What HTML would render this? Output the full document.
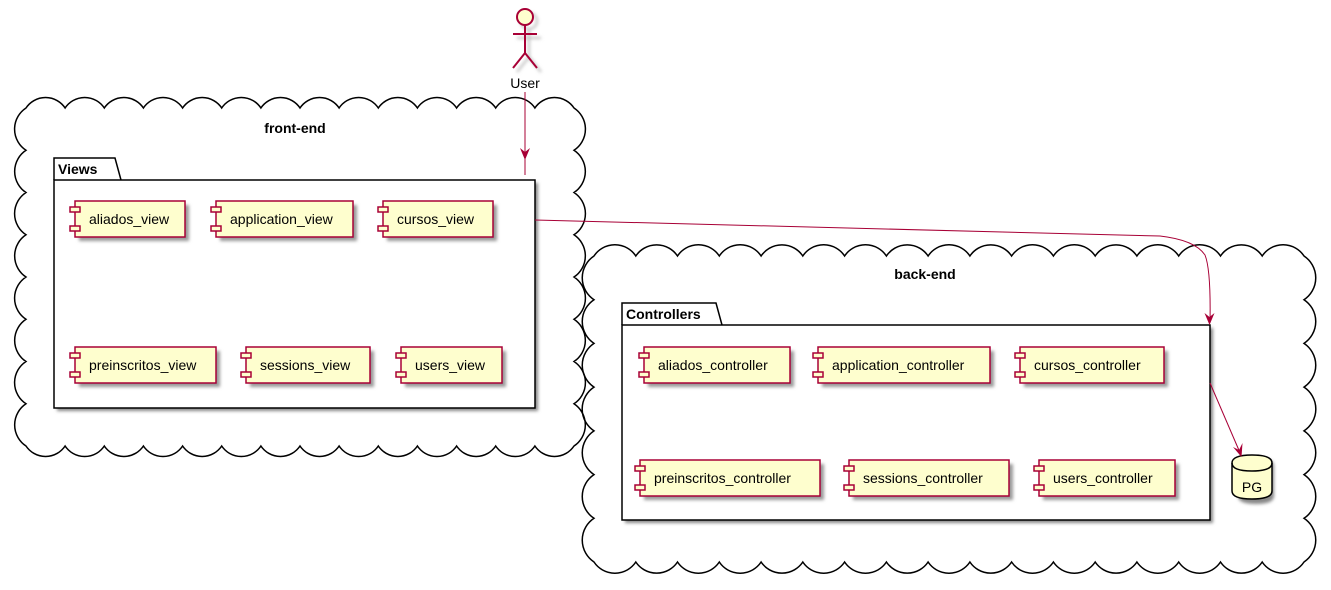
<!DOCTYPE html>
<html><head><meta charset="utf-8"><style>
html,body{margin:0;padding:0;background:#fff;}
svg{display:block;font-family:"Liberation Sans","DejaVu Sans",sans-serif;}
</style></head><body>
<svg id="s" width="1331" height="590" viewBox="0 0 1331 590" xmlns="http://www.w3.org/2000/svg">
<defs>
<filter id="sh" x="-10%" y="-10%" width="130%" height="140%"><feGaussianBlur stdDeviation="1.5"/></filter>
</defs>
<g id="clouds" fill="none" stroke="#000" stroke-width="1.5"></g>

<!-- actor -->
<g stroke="#bbb" stroke-width="2" fill="none" transform="translate(4,4)" filter="url(#sh)">
<circle cx="525" cy="17" r="8"/>
<line x1="525" y1="25" x2="525" y2="53"/>
<line x1="513" y1="34" x2="537" y2="34"/>
<line x1="525" y1="53" x2="513" y2="68"/>
<line x1="525" y1="53" x2="537" y2="68"/>
</g>
<g stroke="#A80036" stroke-width="2" fill="none">
<circle cx="525" cy="17" r="8" fill="#FEFECE"/>
<line x1="525" y1="25" x2="525" y2="53"/>
<line x1="513" y1="34" x2="537" y2="34"/>
<line x1="525" y1="53" x2="513" y2="68"/>
<line x1="525" y1="53" x2="537" y2="68"/>
</g>
<text x="525" y="88" font-size="14" text-anchor="middle">User</text>

<text x="295" y="133" font-size="14" font-weight="bold" text-anchor="middle">front-end</text>
<text x="925" y="279" font-size="14" font-weight="bold" text-anchor="middle">back-end</text>

<!-- Views package -->
<rect x="57" y="183" width="481" height="228" fill="#888" filter="url(#sh)"/>
<path d="M54 180 L54 158 L115 158 L121 180" fill="#fff" stroke="#000" stroke-width="1.5"/>
<rect x="54" y="180" width="481" height="228" fill="#fff" stroke="#000" stroke-width="1.5"/>
<text x="58" y="174" font-size="14" font-weight="bold">Views</text>

<!-- Controllers package -->
<rect x="625" y="328" width="588" height="195" fill="#888" filter="url(#sh)"/>
<path d="M622 325 L622 303 L716 303 L722 325" fill="#fff" stroke="#000" stroke-width="1.5"/>
<rect x="622" y="325" width="588" height="195" fill="#fff" stroke="#000" stroke-width="1.5"/>
<text x="626" y="319" font-size="14" font-weight="bold">Controllers</text>

<g id="comps"></g>

<!-- PG -->
<g>
<path d="M1235 463 Q1235 455 1253 455 Q1271 455 1271 463 L1271 493 Q1271 501 1253 501 Q1235 501 1235 493 Z" fill="#888" filter="url(#sh)" transform="translate(3,3)"/>
<path d="M1232 463 Q1232 455 1252 455 Q1272 455 1272 463 L1272 491 Q1272 499 1252 499 Q1232 499 1232 491 Z" fill="#FEFECE" stroke="#000" stroke-width="1.5"/>
<path d="M1232 463 Q1232 471 1252 471 Q1272 471 1272 463" fill="none" stroke="#000" stroke-width="1.5"/>
<text x="1252" y="492" font-size="14" text-anchor="middle">PG</text>
</g>

<!-- arrows -->
<g stroke="#A80036" stroke-width="1" fill="none">
<line x1="525" y1="92" x2="525" y2="175"/>
<path d="M535 220 L1160 236 Q1195 240 1205 255 Q1211 270 1210 323"/>
<path d="M1210 383 L1241 455"/>
</g>
<g fill="#A80036">
<path d="M525 160 L520 148 L525 152 L530 148 Z"/>
<path d="M1209.5 325 L1204.5 313 L1209.5 317 L1214.5 313 Z"/>
<path d="M1241.5 457 L1233 447 L1239 450 L1242.5 443 Z"/>
</g>
</svg>
<script>
(function(){
var NS="http://www.w3.org/2000/svg";
function cloud(x1,y1,x2,y2,b){
  var d="M"+x1+" "+y1;
  function edge(ax,ay,bx,by){
    var L=Math.hypot(bx-ax,by-ay),n=Math.max(1,Math.round(L/b));
    for(var i=1;i<=n;i++){
      var px=ax+(bx-ax)*i/n, py=ay+(by-ay)*i/n;
      var rr=(L/n)*0.6;
      d+=" A"+rr.toFixed(1)+" "+rr.toFixed(1)+" 0 0 1 "+px.toFixed(1)+" "+py.toFixed(1);
    }
  }
  edge(x1,y1,x2,y1);edge(x2,y1,x2,y2);edge(x2,y2,x1,y2);edge(x1,y2,x1,y1);
  var p=document.createElementNS(NS,"path");p.setAttribute("d",d+" Z");
  document.getElementById("clouds").appendChild(p);
}
cloud(26,108,574,446,40);
cloud(594,256,1304,562,42);
var comps=[
["aliados_view",75,201,110],["application_view",216,201,137],["cursos_view",383,201,110],
["preinscritos_view",75,347,141],["sessions_view",246,347,124],["users_view",401,347,101],
["aliados_controller",644,347,146],["application_controller",818,347,172],["cursos_controller",1020,347,144],
["preinscritos_controller",640,460,180],["sessions_controller",849,460,160],["users_controller",1039,460,136]];
var g=document.getElementById("comps"),h="";
comps.forEach(function(c){
  var x=c[1],y=c[2],w=c[3],H=36;
  h+='<rect x="'+(x+4)+'" y="'+(y+4)+'" width="'+w+'" height="'+H+'" fill="#999" filter="url(#sh)"/>';
  h+='<rect x="'+x+'" y="'+y+'" width="'+w+'" height="'+H+'" fill="#FEFECE" stroke="#A80036" stroke-width="1.5"/>';
  h+='<rect x="'+(x-5)+'" y="'+(y+6)+'" width="10" height="5" fill="#FEFECE" stroke="#A80036" stroke-width="1.5"/>';
  h+='<rect x="'+(x-5)+'" y="'+(y+25)+'" width="10" height="5" fill="#FEFECE" stroke="#A80036" stroke-width="1.5"/>';
  h+='<text x="'+(x+14)+'" y="'+(y+23)+'" font-size="14">'+c[0]+'</text>';
});
g.innerHTML=h;
})();
</script>
</body></html>
